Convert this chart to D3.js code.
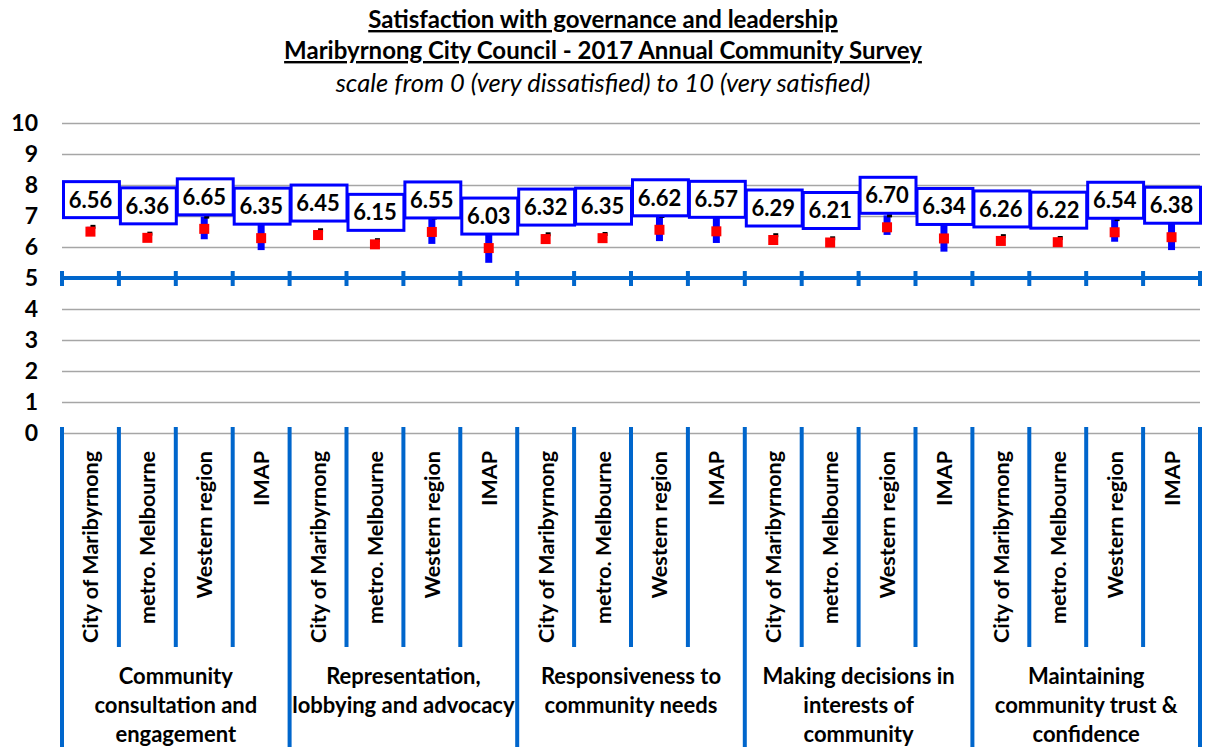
<!DOCTYPE html>
<meta charset="utf-8">
<head>
  <title>Satisfaction with governance and leadership</title>
  <style>
    body { margin: 0; background: #fff; }
    text { font-family: Lato, "Open Sans", sans-serif; fill: #000; }
  </style>
</head>
<script src="https://d3js.org/d3.v7.min.js"></script>
<div id="chart"></div>
<script>

// data
var groups = ["Community consultation and engagement",
              "Representation, lobbying and advocacy",
              "Responsiveness to community needs",
              "Making decisions in interests of community",
              "Maintaining community trust & confidence"];
var groupLines = [["Community", "consultation and", "engagement"],
                  ["Representation,", "lobbying and advocacy"],
                  ["Responsiveness to", "community needs"],
                  ["Making decisions in", "interests of", "community"],
                  ["Maintaining", "community trust &", "confidence"]];
var areas = ["City of Maribyrnong", "metro. Melbourne", "Western region", "IMAP"];

var means = [6.56, 6.36, 6.65, 6.35,
             6.45, 6.15, 6.55, 6.03,
             6.32, 6.35, 6.62, 6.57,
             6.29, 6.21, 6.70, 6.34,
             6.26, 6.22, 6.54, 6.38];
var lower = [6.47, 6.29, 6.25, 5.90,
             6.36, 6.08, 6.10, 5.49,
             6.23, 6.28, 6.19, 6.13,
             6.20, 6.14, 6.39, 5.85,
             6.17, 6.15, 6.17, 5.90];
var upper = [6.65, 6.43, 6.98, 6.80,
             6.54, 6.22, 6.95, 6.57,
             6.41, 6.42, 7.00, 7.01,
             6.38, 6.28, 7.02, 6.83,
             6.35, 6.29, 6.90, 6.86];
var yTicks = [0, 1, 2, 3, 4, 5, 6, 7, 8, 9, 10];

var W = 1205, H = 747;
var plotLeft = 62, plotRight = 1200, plotTop = 123, plotBottom = 433;

var svg = d3.select("#chart").append("svg")
    .attr("width", W).attr("height", H);

// titles
svg.append("text").attr("x", 603).attr("y", 28)
   .attr("text-anchor", "middle").style("font-weight", "bold")
   .style("font-size", "24px").style("text-decoration", "underline")
   .text("Satisfaction with governance and leadership");
svg.append("text").attr("x", 603).attr("y", 59)
   .attr("text-anchor", "middle").style("font-weight", "bold")
   .style("font-size", "24px").style("text-decoration", "underline")
   .text("Maribyrnong City Council - 2017 Annual Community Survey");
svg.append("text").attr("x", 603).attr("y", 92)
   .attr("text-anchor", "middle").style("font-style", "italic")
   .style("font-size", "25.5px")
   .text("scale from 0 (very dissatisfied) to 10 (very satisfied)");

// build the point table
var points = means.map(function(m, i) {
  return {
    id: i,
    group: Math.floor(i / 4),
    area: areas[i % 4],
    mean: m,
    lo: lower[i],
    hi: upper[i]
  };
});

var x = d3.scaleBand()
    .domain(points.map(function(d) { return d.id; }))
    .range([plotLeft, plotRight])
    .padding(0);
var xi = d3.scaleLinear().domain([0, points.length]).range([plotLeft, plotRight]);

var y = d3.scaleLinear().domain([0, 10]).range([plotBottom, plotTop]);

// y axis + gridlines
var yAxis = svg.append("g")
    .attr("transform", "translate(" + plotLeft + ",0)")
    .call(d3.axisLeft(y).tickValues(yTicks).tickSize(-(plotRight - plotLeft)).tickPadding(24));
yAxis.select(".domain").remove();
yAxis.selectAll("line").attr("stroke", "#a6a6a6").attr("stroke-width", 1.5);
yAxis.selectAll("text")
    .style("font-size", "23px").style("font-weight", "bold")
    .style("font-family", "Lato, sans-serif");

// horizontal axis crossing at 5
svg.append("line")
   .attr("x1", plotLeft).attr("x2", plotRight)
   .attr("y1", y(5)).attr("y2", y(5))
   .attr("stroke", "#0066cc").attr("stroke-width", 4);
svg.selectAll(".xtick")
  .data(d3.range(points.length + 1))
  .enter().append("line")
   .attr("x1", function(d) { return xi(d); })
   .attr("x2", function(d) { return xi(d); })
   .attr("y1", y(5) - 7).attr("y2", y(5) + 8)
   .attr("stroke", "#0066cc").attr("stroke-width", 4);

// category dividers below the plot
svg.selectAll(".divider")
  .data(d3.range(points.length + 1))
  .enter().append("line")
   .attr("x1", function(d) { return xi(d); })
   .attr("x2", function(d) { return xi(d); })
   .attr("y1", plotBottom - 6)
   .attr("y2", function(d) { return d % 4 === 0 ? H : 647; })
   .attr("stroke", "#0066cc").attr("stroke-width", 4);

// area labels (rotated)
svg.selectAll(".area")
  .data(points)
  .enter().append("text")
   .attr("transform", function(d) {
     return "translate(" + (x(d.id) + x.bandwidth() / 2 + 8) + ",451) rotate(-90)";
   })
   .attr("text-anchor", "end")
   .style("font-size", "21.5px").style("font-weight", "bold")
   .text(function(d) { return d.area; });

// group labels
groupLines.forEach(function(lines, g) {
  var cx = (xi(g * 4) + xi(g * 4 + 4)) / 2;
  var t = svg.append("text").attr("text-anchor", "middle")
      .style("font-size", "22px").style("font-weight", "bold");
  lines.forEach(function(l, k) {
    t.append("tspan").attr("x", cx).attr("y", 684 + k * 29).text(l);
  });
});

// error bars
svg.selectAll(".err")
  .data(points)
  .enter().append("line")
   .attr("x1", function(d) { return x(d.id) + x.bandwidth() / 2; })
   .attr("x2", function(d) { return x(d.id) + x.bandwidth() / 2; })
   .attr("y1", function(d) { return y(d.lo); })
   .attr("y2", function(d) { return y(d.hi); })
   .attr("stroke", "#0000ff").attr("stroke-width", 7);

// upper bound marks
svg.selectAll(".hi")
  .data(points)
  .enter().append("rect")
   .attr("x", function(d) { return x(d.id) + x.bandwidth() / 2; })
   .attr("y", function(d) { return y(d.hi) - 2; })
   .attr("width", 5).attr("height", 4)
   .attr("fill", "#000");

// mean markers
svg.selectAll(".mean")
  .data(points)
  .enter().append("rect")
   .attr("x", function(d) { return x(d.id) + x.bandwidth() / 2 - 5; })
   .attr("y", function(d) { return y(d.mean) - 3; })
   .attr("width", 10).attr("height", 10)
   .attr("fill", "#ff0000");

// value labels in boxes
var lab = svg.selectAll(".lab")
  .data(points)
  .enter().append("g")
   .attr("transform", function(d) {
     return "translate(" + (x(d.id) + x.bandwidth() / 2) + "," + (y(d.mean) - 30) + ")";
   });
lab.append("rect")
   .attr("x", -x.bandwidth() / 2 + 1.5).attr("y", -18)
   .attr("width", x.bandwidth() - 1).attr("height", 36)
   .attr("fill", "#fff").attr("stroke", "#0000ff").attr("stroke-width", 3);
lab.append("text")
   .attr("text-anchor", "middle").attr("y", 8)
   .style("font-size", "22px").style("font-weight", "bold")
   .text(function(d) { return d.mean.toFixed(2); });

</script>
